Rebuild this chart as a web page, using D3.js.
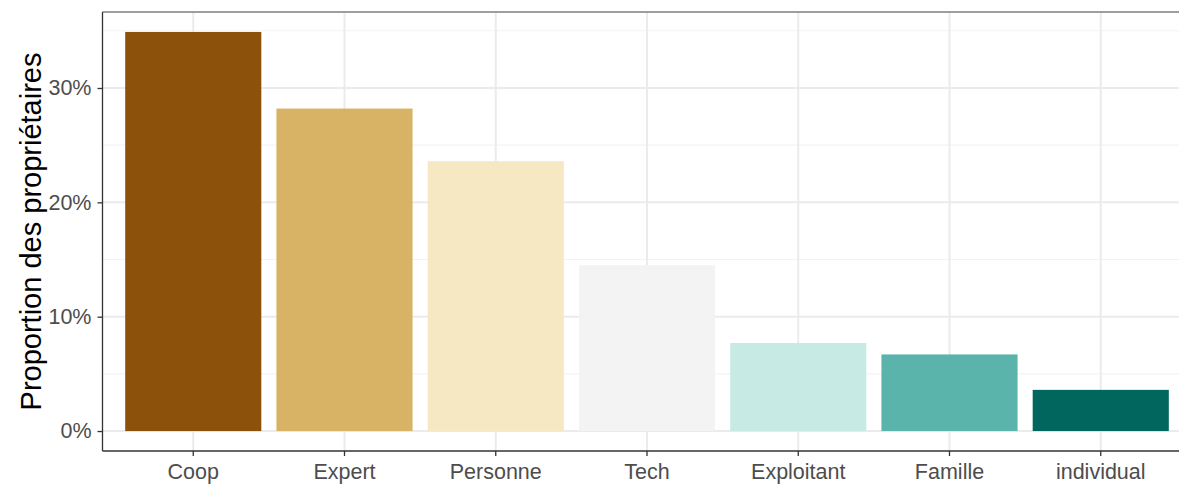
<!DOCTYPE html>
<html><head><meta charset="utf-8">
<script src="https://cdn.jsdelivr.net/npm/d3@7"></script>
<style>body{margin:0;background:#fff;}svg{display:block;}</style>
</head><body><svg id="c" width="1179" height="485"></svg>
<script>
const categories = ["Coop","Expert","Personne","Tech","Exploitant","Famille","individual"];
const values = [0.349,0.282,0.236,0.145,0.077,0.067,0.036];
const colors = ["#8C510A","#D8B365","#F6E8C3","#F3F3F3","#C7EAE5","#5AB4AC","#01665E"];
const yTicks = [0,0.1,0.2,0.3];
const yMinor = [0.05,0.15,0.25,0.35];
const yTitle = "Proportion des propriétaires";

const svg = d3.select("#c");
const pL = 102.5, pT = 12, pB = 451, pR = 1191.5;
const maxV = d3.max(values);
const y = d3.scaleLinear().domain([-maxV*0.05, maxV*1.05]).range([pB, pT]);
const x = d3.scaleBand().domain(categories).range([pL, pR]).paddingInner(0.1).paddingOuter(0.15);
const font = "'Liberation Sans', Arial, sans-serif";

const g = svg.append("g");
g.selectAll(".ymin").data(yMinor).enter().append("line")
  .attr("x1", pL).attr("x2", 1179).attr("y1", d=>y(d)).attr("y2", d=>y(d))
  .attr("stroke","#F3F3F3").attr("stroke-width",1.1);
g.selectAll(".ymaj").data(yTicks).enter().append("line")
  .attr("x1", pL).attr("x2", 1179).attr("y1", d=>y(d)).attr("y2", d=>y(d))
  .attr("stroke","#EBEBEB").attr("stroke-width",2);
g.selectAll(".xmaj").data(categories).enter().append("line")
  .attr("x1", d=>x(d)+x.bandwidth()/2).attr("x2", d=>x(d)+x.bandwidth()/2).attr("y1", pT).attr("y2", pB)
  .attr("stroke","#EBEBEB").attr("stroke-width",2);
g.selectAll(".bar").data(categories).enter().append("rect")
  .attr("x", d=>x(d)).attr("width", x.bandwidth())
  .attr("y", (d,i)=>y(values[i])).attr("height",(d,i)=>y(0)-y(values[i]))
  .attr("fill",(d,i)=>colors[i]);
svg.append("line").attr("x1",pL).attr("x2",1179).attr("y1",pT).attr("y2",pT).attr("stroke","#7F7F7F").attr("stroke-width",1.5);

const yAxis = d3.axisLeft(y).tickValues(yTicks).tickFormat(d=>Math.round(d*100)+"%").tickSize(5).tickPadding(6);
const ya = svg.append("g").attr("transform",`translate(${pL},0)`).call(yAxis);
ya.select(".domain").attr("d",`M0,${pT}V${pB}`).attr("stroke","#333").attr("stroke-width",1.3);
ya.selectAll(".tick line").attr("stroke","#333").attr("stroke-width",1.3);
ya.selectAll("text").attr("fill","#4D4D4D").style("font-family",font).style("font-size","21.5px");

const xAxis = d3.axisBottom(x).tickSize(5).tickPadding(8);
const xa = svg.append("g").attr("transform",`translate(0,${pB})`).call(xAxis);
xa.select(".domain").attr("d",`M${pL},0H1179`).attr("stroke","#333").attr("stroke-width",1.3);
xa.selectAll(".tick line").attr("stroke","#333").attr("stroke-width",1.3);
xa.selectAll("text").attr("fill","#4D4D4D").style("font-family",font).style("font-size","21.5px");

svg.append("text").attr("transform",`translate(41,${(pT+pB)/2}) rotate(-90)`)
  .attr("text-anchor","middle").style("font-family",font).style("font-size","29px").attr("fill","#000")
  .text(yTitle);
</script></body></html>
